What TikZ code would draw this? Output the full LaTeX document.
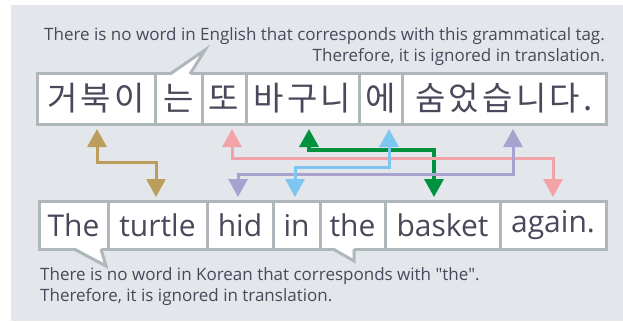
\documentclass[tikz,border=0pt]{standalone}
\usepackage{fontspec}
\setmainfont{Open Sans}
\newfontfamily\krfont[LetterSpace=10]{Noto Sans CJK KR}
\usetikzlibrary{arrows.meta}
\definecolor{bgc}{HTML}{E3E6EA}
\definecolor{bordc}{HTML}{AEB8BA}
\definecolor{txtc}{HTML}{4A485A}
\definecolor{goldc}{HTML}{BC9D5B}
\definecolor{pinkc}{HTML}{F2A3A8}
\definecolor{greenc}{HTML}{00923F}
\definecolor{bluec}{HTML}{7CC6F0}
\definecolor{lavc}{HTML}{A9A1CF}
\tikzset{
  wbox/.style={draw=bordc, fill=white, line width=3pt, inner sep=0pt, outer sep=0pt, text=txtc},
  krbox/.style={wbox, minimum height=51pt, font=\krfont\fontsize{33}{38}\selectfont},
  enbox/.style={wbox, minimum height=48pt, font=\fontsize{30}{36}\selectfont},
  notetxt/.style={inner sep=0pt, text=txtc, font=\fontsize{17}{20}\selectfont},
  link/.style={line width=3pt, {Triangle[width=19pt,length=18pt]}-{Triangle[width=19pt,length=18pt]}},
  tailfill/.style={fill=white, draw=none},
  tailline/.style={draw=bordc, line width=3pt, line join=miter}
}
\begin{document}
\begin{tikzpicture}[x=1pt,y=-1pt]
\useasboundingbox (0,0) rectangle (623,321);
\fill[bgc] (11,5) rectangle (623,321);

% top notes
\node[notetxt, anchor=base east] (nt1) at (605,41) {There is no word in English that corresponds with this grammatical tag.};
\node[notetxt, anchor=base east] (nt2) at (605,61) {Therefore, it is ignored in translation.};

% Korean row
\node[krbox, minimum width=118pt] (k1) at (96,98.5) {거북이};
\node[krbox, minimum width=47pt] (k2) at (178.5,98.5) {는};
\node[krbox, minimum width=44pt] (k3) at (224,98.5) {또};
\node[krbox, minimum width=113pt] (k4) at (302.5,98.5) {바구니};
\node[krbox, minimum width=43pt] (k5) at (380.5,98.5) {에};
\node[krbox, minimum width=204pt] (k6) at (504,98.5) {숨었습니다.};

% English row
\node[enbox, minimum width=69pt] (e1) at (73.5,225) {The};
\node[enbox, minimum width=99pt] (e2) at (157.5,225) {turtle};
\node[enbox, minimum width=66pt] (e3) at (240,225) {hid};
\node[enbox, minimum width=47pt] (e4) at (296.5,225) {in};
\node[enbox, minimum width=65pt] (e5) at (352.5,225) {the};
\node[enbox, minimum width=115pt] (e6) at (442.5,225) {basket};
\node[enbox, minimum width=106pt] (e7) at (553,225) {again.};

% callout tails
\fill[tailfill] (170,76) -- (205,50) -- (190,76) -- cycle;
\draw[tailline] (170,74) -- (205,50) -- (190,74);
\fill[tailfill] (74,247) -- (106,266) -- (101,247) -- cycle;
\draw[tailline] (74,249) -- (106,266) -- (101,249);
\fill[tailfill] (333,247) -- (354,261) -- (354,247) -- cycle;
\draw[tailline] (333,249) -- (354,261) -- (354,249);

% bottom notes
\node[notetxt, anchor=base west] (nb1) at (40,280) {There is no word in Korean that corresponds with \textquotedbl the\textquotedbl.};
\node[notetxt, anchor=base west] (nb2) at (40,301) {Therefore, it is ignored in translation.};

% links
\draw[link, goldc] ([xshift=1pt,yshift=-5pt]k1.south) -- ++(0,33) -| ([xshift=-1.5pt,yshift=4pt]e2.north);
\draw[link, greenc, line width=3.5pt] ([xshift=6.5pt,yshift=-5pt]k4.south) -- ++(0,21) -| ([xshift=-8.5pt,yshift=4pt]e6.north);
\draw[link, pinkc] ([xshift=8pt,yshift=-5pt]k3.south) -- ++(0,29) -| ([yshift=4pt]e7.north);
\draw[link, lavc] ([xshift=9pt,yshift=-5pt]k6.south) -- ++(0,45) -| ([xshift=-2pt,yshift=4pt]e3.north);
\draw[link, bluec] ([xshift=8.5pt,yshift=-5pt]k5.south) -- ++(0,38) -| ([xshift=-1.5pt,yshift=4pt]e4.north);
\end{tikzpicture}
\end{document}
